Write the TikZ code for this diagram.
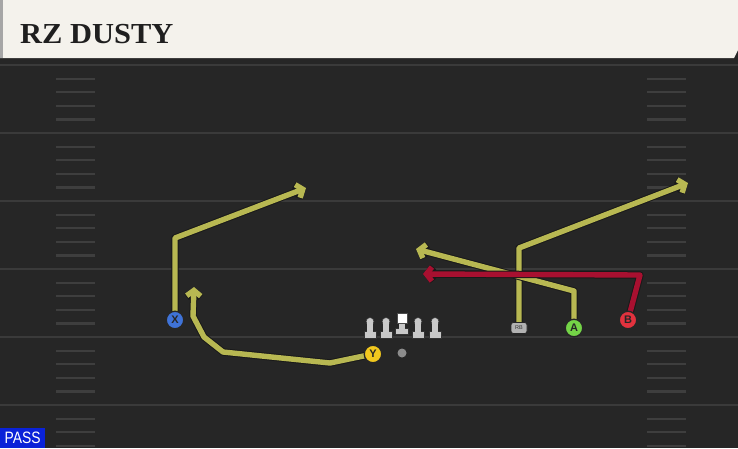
\documentclass[tikz,border=0pt]{standalone}
\usepackage{fontspec}
\usepackage{graphicx}
\setmainfont{Liberation Serif}
\newfontfamily\sansfnt{Liberation Sans}
\usetikzlibrary{arrows.meta}
\definecolor{field}{HTML}{262626}
\definecolor{yardc}{HTML}{3A3A3A}
\definecolor{hashc}{HTML}{3E3E3E}
\definecolor{cream}{HTML}{F4F2EC}
\definecolor{routey}{HTML}{B8B852}
\definecolor{router}{HTML}{A81030}
\definecolor{pblue}{HTML}{3F73D8}
\definecolor{pyellow}{HTML}{F2C81E}
\definecolor{pgreen}{HTML}{74D447}
\definecolor{pred}{HTML}{E2323E}
\definecolor{passblue}{HTML}{0A22D8}
\definecolor{olgray}{HTML}{C8C8C8}
\tikzset{
  yard/.style={draw=yardc, line width=2.2pt},
  hash/.style={draw=hashc, line width=2.2pt},
  route/.style={draw=#1, line width=5.4pt, line join=round,
    -{Straight Barb[length=5.5pt,width=14pt]},
    preaction={draw=black!90, line width=7.4pt, line join=round, -{Straight Barb[length=5.5pt,width=14pt]}}},
  player/.style={circle, draw=black!85, line width=1.3pt, fill=#1, minimum size=17.5pt, inner sep=0pt,
    font=\sansfnt\bfseries\fontsize{11}{11}\selectfont, text=black!85},
}
\begin{document}
\begin{tikzpicture}[x=1pt,y=-1pt]
\useasboundingbox (0,0) rectangle (738,448);
\fill[field] (0,0) rectangle (738,448);
% yard lines
\foreach \y in {65,133,201,269,337,405} {
  \draw[yard] (0,\y) -- (738,\y);
  \foreach \k in {1,2,3,4} {
    \pgfmathsetmacro\hy{\y+13.6*\k}
    \ifdim\hy pt<448pt
      \draw[hash] (56,\hy) -- (95,\hy);
      \draw[hash] (647,\hy) -- (686,\hy);
    \fi
  }
}
% header
\fill[black!85] (0,56) rectangle (738,63);
\fill[cream] (0,0) -- (738,0) -- (738,50) -- (734,58) -- (0,58) -- cycle;
\fill[black!35] (0,0) rectangle (3,58);
\node[anchor=base west, inner sep=0pt, text=black!88, font=\bfseries\fontsize{29}{29}\selectfont] (title) at (20,43) {\scalebox{1.05}[1]{RZ DUSTY}};
% positions
\coordinate (xp) at (175,320);
\coordinate (yp) at (373,354);
\coordinate (rbp) at (519,328);
\coordinate (ap) at (574,328);
\coordinate (bp) at (628,320);
% routes
\draw[route=routey] (xp) -- (175,238) -- (306,188);
\draw[route=routey] (yp) -- (330,363) -- (223,352) -- (204,337) -- (193,316) -- (194,287);
\draw[route=routey] (rbp) -- (519,248) -- (688,183);
\draw[route=routey] (ap) -- (574,291) -- (416,249);
\draw[route=router] (bp) -- (640,275) -- (423,274);
% line
\foreach \lx in {370,386,418,435} {
  \fill[olgray, draw=black!80, line width=0.6pt] (\lx-6,331.5) rectangle (\lx+6,338);
  \fill[olgray, draw=black!80, line width=0.6pt] (\lx,321.5) circle (4);
  \fill[olgray] (\lx-2.8,321.5) rectangle (\lx+2.8,332);
}
\fill[olgray, draw=black!80, line width=0.6pt] (395.5,328) rectangle (408.5,334);
\fill[olgray] (399.2,321) rectangle (404.8,329);
\fill[white, draw=black!70, line width=0.6pt] (397,313.5) rectangle (407,323);
\fill[black!45] (402,353) circle (4.5);
% players
\node[player=pblue] (X) at (xp) {X};
\node[player=pyellow] (Y) at (yp) {Y};
\node[player=pgreen] (A) at (ap) {A};
\node[player=pred] (B) at (bp) {B};
\node[rectangle, rounded corners=2.5pt, fill=black!30, draw=black!85, line width=0.7pt, minimum width=16pt, minimum height=11pt, inner sep=0pt, font=\sansfnt\fontsize{5.5}{5.5}\selectfont, text=black!80] (RB) at (rbp) {RB};
% pass tag
\node[fill=passblue, text=white, anchor=south west, minimum width=45pt, minimum height=20pt, inner sep=0pt, font=\sansfnt\fontsize{16.5}{16.5}\selectfont] (pass) at (0,448) {\scalebox{0.84}[1]{PASS}};
\end{tikzpicture}
\end{document}
